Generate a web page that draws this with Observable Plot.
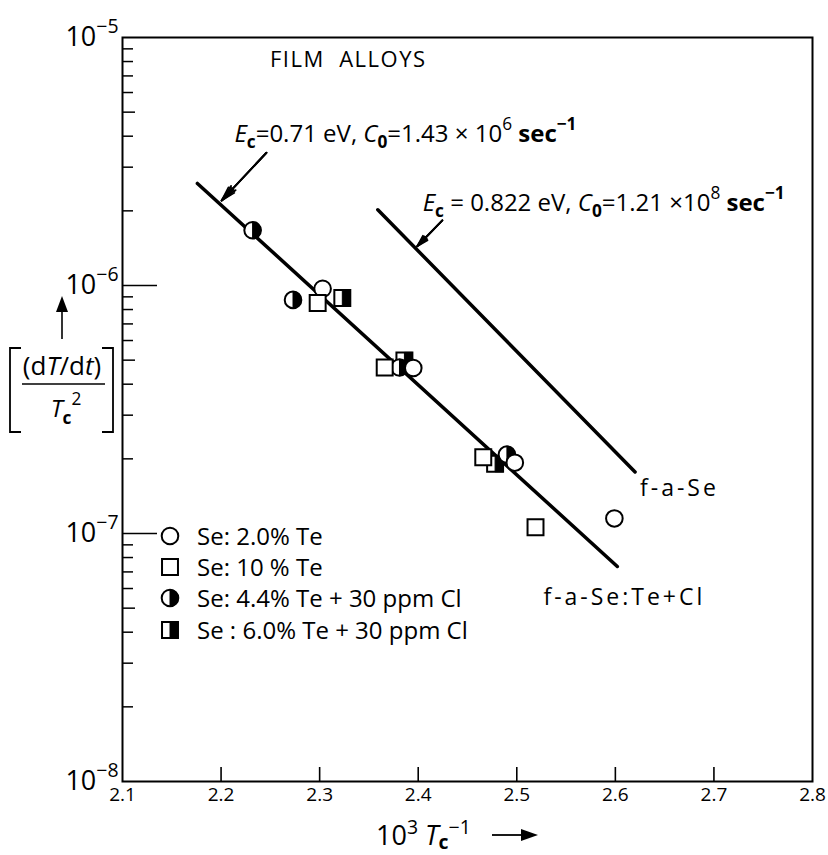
<!DOCTYPE html>
<html>
<head>
<meta charset="utf-8">
<script src="https://cdn.jsdelivr.net/npm/d3@7"></script>
<script src="https://cdn.jsdelivr.net/npm/@observablehq/plot@0.6"></script>
<style>
html, body { margin: 0; padding: 0; background: #fff; }
#chart { width: 828px; height: 855px; }
svg { display: block; }
</style>
</head>
<body>
<div id="chart"></div>
<script>
// ---------------- data ----------------
const xTickValues = [2.1, 2.2, 2.3, 2.4, 2.5, 2.6, 2.7, 2.8];
const xTickLabels = ["2.1", "2.2", "2.3", "2.4", "2.5", "2.6", "2.7", "2.8"];
const xInnerTicks = [2.2, 2.3, 2.4, 2.5, 2.6, 2.7];
const yDecades = [1e-8, 1e-7, 1e-6, 1e-5];
const yDecadeLabels = ["10{^:−8}", "10{^:−7}", "10{^:−6}", "10{^:−5}"];
const yMinorMantissas = [2, 3, 4, 6, 7, 8, 9];
const yMidMantissas = [5];
const yMinorExponents = [-8, -7, -6];
const yLongTicks = [1e-6, 1e-7];

// Se: 2.0% Te (open circles)
const circleX = [2.303, 2.395, 2.498, 2.599];
const circleY = [9.7e-7, 4.65e-7, 1.93e-7, 1.15e-7];
// Se: 10% Te (open squares)
const squareX = [2.298, 2.366, 2.466, 2.519];
const squareY = [8.5e-7, 4.67e-7, 2.03e-7, 1.06e-7];
// Se: 4.4% Te + 30 ppm Cl (half-filled circles)
const halfCircleX = [2.232, 2.273, 2.381, 2.490];
const halfCircleY = [1.67e-6, 8.75e-7, 4.67e-7, 2.08e-7];
// Se: 6.0% Te + 30 ppm Cl (half-filled squares)
const halfSquareX = [2.323, 2.386, 2.478];
const halfSquareY = [8.9e-7, 4.99e-7, 1.91e-7];

// fitted lines
const fitAX = [2.176, 2.602];   // f-a-Se:Te+Cl
const fitAY = [2.58e-6, 7.36e-8];
const fitBX = [2.359, 2.620];   // f-a-Se
const fitBY = [2.02e-6, 1.77e-7];

// legend
const seriesNames = ["Se: 2.0% Te", "Se: 10 % Te", "Se: 4.4% Te + 30 ppm Cl", "Se : 6.0% Te + 30 ppm Cl"];

// text annotations (data coordinates)
const noteTexts = [
  "FILM  ALLOYS",
  "{i:E}{_:c}=0.71 eV, {i:C}{_:0}=1.43 × 10{^:6} {b:sec{^:−1}}",
  "{i:E}{_:c} = 0.822 eV, {i:C}{_:0}=1.21 ×10{^:8} {b:sec{^:−1}}",
  "f-a-Se",
  "f-a-Se:Te+Cl"
];
const noteX = [2.329, 2.2135, 2.4045, 2.625, 2.527];
const noteY = [8.1e-6, 4.08e-6, 2.15e-6, 1.52e-7, 5.52e-8];
const noteAnchor = ["middle", "start", "start", "start", "start"];
const noteSize = [22, 24, 24, 23, 23];
const noteSpacing = [1.5, 0, 0, 3, 3];

// annotation arrows
const arrowX1 = [2.246, 2.4245];
const arrowY1 = [3.43e-6, 1.83e-6];
const arrowX2 = [2.2005, 2.399];
const arrowY2 = [2.2e-6, 1.44e-6];

// ---------------- helpers ----------------
const FONT = "'Open Sans', 'DejaVu Sans', sans-serif";
const NS = "http://www.w3.org/2000/svg";
const zip = (xs, ys) => xs.map((x, i) => ({x, y: ys[i]}));
const pow10 = k => Math.pow(10, k);
const yMinorTicks = yMinorExponents.flatMap(k => yMinorMantissas.map(m => m * pow10(k)));
const yMidTicks = yMinorExponents.flatMap(k => yMidMantissas.map(m => m * pow10(k)));
const arrowRows = arrowX1.map((x, i) => ({x1: x, y1: arrowY1[i], x2: arrowX2[i], y2: arrowY2[i]}));

const halfDisc = {draw(ctx, size) { const r = Math.sqrt(size / Math.PI); ctx.moveTo(0, -r); ctx.arc(0, 0, r, -Math.PI / 2, Math.PI / 2); ctx.closePath(); }};
const halfRect = {draw(ctx, size) { const w = Math.sqrt(size); ctx.rect(0, -w / 2, w / 2, w); }};

function parseMarkup(s) {
  let i = 0;
  function seq(nested) {
    const out = []; let buf = "";
    while (i < s.length) {
      const c = s[i];
      if (c === "}" && nested) { i++; break; }
      if (c === "{" && s[i + 2] === ":") {
        if (buf) { out.push({text: buf}); buf = ""; }
        const type = s[i + 1]; i += 3;
        out.push({type, children: seq(true)});
        continue;
      }
      buf += c; i++;
    }
    if (buf) out.push({text: buf});
    return out;
  }
  return seq(false);
}

function richify(el, base, opts = {}) {
  const subOff = opts.subOff ?? 0.28, supOff = opts.supOff ?? 0.48;
  const src = el.textContent;
  while (el.firstChild) el.removeChild(el.firstChild);
  let cur = 0;
  function walk(nodes, st) {
    for (const n of nodes) {
      if (n.text !== undefined) {
        const t = document.createElementNS(NS, "tspan");
        t.textContent = n.text;
        const dy = st.off - cur;
        if (Math.abs(dy) > 1e-6) t.setAttribute("dy", dy.toFixed(2));
        cur = st.off;
        t.setAttribute("font-size", st.size.toFixed(2));
        if (st.i) t.setAttribute("font-style", "italic");
        if (st.b) t.setAttribute("font-weight", "bold");
        el.appendChild(t);
      } else {
        const s2 = {...st};
        if (n.type === "i") s2.i = true;
        else if (n.type === "b") s2.b = true;
        else if (n.type === "_") { s2.off = st.off + subOff * st.size; s2.size = st.size * 0.72; s2.b = true; s2.i = false; }
        else if (n.type === "^") { s2.off = st.off - supOff * st.size; s2.size = st.size * 0.72; s2.i = false; }
        walk(n.children, s2);
      }
    }
  }
  walk(parseMarkup(src), {off: 0, size: base, i: false, b: false});
}

// ---------------- chart ----------------
const chart = Plot.plot({
  width: 828,
  height: 855,
  marginLeft: 122,
  marginRight: 16,
  marginTop: 37,
  marginBottom: 74,
  x: {domain: [2.1, 2.8], label: null},
  y: {type: "log", domain: [1e-8, 1e-5], label: null},
  style: {fontFamily: FONT, fontSize: "20px", color: "#000", background: "#fff", overflow: "visible"},
  marks: [
    Plot.frame({stroke: "#000", strokeWidth: 2}),
    Plot.axisX({ticks: xInnerTicks, tickSize: -14, tickFormat: () => "", strokeWidth: 1.6, label: null}),
    Plot.axisX({ticks: xTickValues, tickSize: 0, tickPadding: 6, tickFormat: d => xTickLabels[xTickValues.indexOf(d)], label: null}),
    Plot.axisY({ticks: yMinorTicks, tickSize: -11, tickFormat: () => "", strokeWidth: 1.5, label: null}),
    Plot.axisY({ticks: yMidTicks, tickSize: -13, tickFormat: () => "", strokeWidth: 1.5, label: null}),
    Plot.axisY({ticks: yLongTicks, tickSize: -35, tickFormat: () => "", strokeWidth: 1.5, label: null}),
    Plot.axisY({ticks: yDecades, tickSize: 0, tickPadding: 4, tickFormat: d => yDecadeLabels[yDecades.indexOf(d)], label: null}),
    Plot.line(zip(fitAX, fitAY), {x: "x", y: "y", stroke: "#000", strokeWidth: 3.5}),
    Plot.line(zip(fitBX, fitBY), {x: "x", y: "y", stroke: "#000", strokeWidth: 3.5}),
    // annotation arrows with (nearly) filled narrow heads
    Plot.arrow(arrowRows, {x1: "x1", y1: "y1", x2: "x2", y2: "y2", stroke: "#000", strokeWidth: 1.6, headLength: 14, headAngle: 32}),
    Plot.arrow(arrowRows, {x1: "x1", y1: "y1", x2: "x2", y2: "y2", stroke: "#000", strokeWidth: 2, headLength: 13, headAngle: 20}),
    Plot.arrow(arrowRows, {x1: "x1", y1: "y1", x2: "x2", y2: "y2", stroke: "#000", strokeWidth: 2, headLength: 12, headAngle: 9}),
    // half-filled squares
    Plot.dot(zip(halfSquareX, halfSquareY), {x: "x", y: "y", symbol: "square", r: 9, fill: "#fff", stroke: "#000", strokeWidth: 2}),
    Plot.dot(zip(halfSquareX, halfSquareY), {x: "x", y: "y", symbol: halfRect, r: 9, fill: "#000", stroke: "#000", strokeWidth: 1}),
    // half-filled circles
    Plot.dot(zip(halfCircleX, halfCircleY), {x: "x", y: "y", symbol: "circle", r: 8.3, fill: "#fff", stroke: "#000", strokeWidth: 2}),
    Plot.dot(zip(halfCircleX, halfCircleY), {x: "x", y: "y", symbol: halfDisc, r: 8.3, fill: "#000", stroke: "#000", strokeWidth: 1}),
    // open circles
    Plot.dot(zip(circleX, circleY), {x: "x", y: "y", symbol: "circle", r: 8.3, fill: "#fff", stroke: "#000", strokeWidth: 2}),
    // open squares
    Plot.dot(zip(squareX, squareY), {x: "x", y: "y", symbol: "square", r: 9, fill: "#fff", stroke: "#000", strokeWidth: 2}),
    // annotations
    Plot.text(noteTexts.map((t, i) => ({t, x: noteX[i], y: noteY[i]})),
      {x: "x", y: "y", text: "t", textAnchor: "start", fontSize: 23, fill: "#000"})
  ]
});

document.getElementById("chart").appendChild(chart);
const svg = d3.select(chart);

// tick label sizes and per-note styling (matched by content)
svg.selectAll("text").each(function() {
  const s = this.textContent;
  if (xTickLabels.includes(s)) this.setAttribute("font-size", 19);
  else if (yDecadeLabels.includes(s)) this.setAttribute("font-size", 27);
  else {
    const idx = noteTexts.indexOf(s);
    if (idx >= 0) {
      this.setAttribute("text-anchor", noteAnchor[idx]);
      this.setAttribute("font-size", noteSize[idx]);
      if (noteSpacing[idx]) this.setAttribute("letter-spacing", noteSpacing[idx]);
    }
  }
});

// ---------------- legend ----------------
const legendRowsY = [536, 567, 598, 630];
const legendSymX = 170;
const legendTextX = 197;
const lg = svg.append("g").attr("font-family", FONT).attr("font-size", 24).attr("text-anchor", "start");
const sizeC = Math.PI * 8.3 * 8.3, sizeS = Math.PI * 9 * 9;
legendRowsY.forEach((y, i) => {
  const g = lg.append("g").attr("transform", `translate(${legendSymX},${y})`);
  if (i === 0 || i === 2) g.append("path").attr("d", d3.symbol(d3.symbolCircle, sizeC)()).attr("fill", "#fff").attr("stroke", "#000").attr("stroke-width", 2);
  if (i === 1 || i === 3) g.append("path").attr("d", d3.symbol(d3.symbolSquare, sizeS)()).attr("fill", "#fff").attr("stroke", "#000").attr("stroke-width", 2);
  if (i === 2) g.append("path").attr("d", d3.symbol(halfDisc, sizeC)()).attr("fill", "#000").attr("stroke", "#000");
  if (i === 3) g.append("path").attr("d", d3.symbol(halfRect, sizeS)()).attr("fill", "#000").attr("stroke", "#000");
  lg.append("text").attr("x", legendTextX).attr("y", y).attr("dy", "0.36em").attr("text-anchor", "start").text(seriesNames[i]);
});

// ---------------- axis titles ----------------
const at = svg.append("g").attr("font-family", FONT).attr("fill", "#000").attr("text-anchor", "middle");
// y title: arrow, brackets, fraction
at.append("line").attr("x1", 62).attr("x2", 62).attr("y1", 339).attr("y2", 310).attr("stroke", "#000").attr("stroke-width", 1.6);
at.append("path").attr("d", "M56,312 L62,296 L68,312 Z").attr("fill", "#000");
at.append("path").attr("d", "M21,348 H10 V432 H21").attr("fill", "none").attr("stroke", "#000").attr("stroke-width", 1.8);
at.append("path").attr("d", "M102,348 H113 V432 H102").attr("fill", "none").attr("stroke", "#000").attr("stroke-width", 1.8);
at.append("path").attr("d", "M22,384 H105").attr("stroke", "#000").attr("stroke-width", 1.6);
at.append("text").attr("x", 62).attr("y", 375).attr("text-anchor", "middle").attr("font-size", 26).text("(d{i:T}/d{i:t})");
at.append("text").attr("x", 66).attr("y", 417).attr("text-anchor", "middle").attr("font-size", 24).text("{i:T}{_:c}{^:2}");
// x title
at.append("text").attr("x", 376).attr("y", 845).attr("text-anchor", "start").attr("font-size", 27).attr("class", "xtitle").text("10{^:3} {i:T}{_:c}{^:−1}");
at.append("line").attr("x1", 492).attr("x2", 524).attr("y1", 835).attr("y2", 835).attr("stroke", "#000").attr("stroke-width", 1.8);
at.append("path").attr("d", "M521,829 L538,835 L521,841 Z").attr("fill", "#000");

// ---------------- rich text (sub/superscripts, italics) ----------------
svg.selectAll("text").each(function() {
  if (this.textContent.includes("{")) {
    const base = parseFloat(this.getAttribute("font-size")) || parseFloat(getComputedStyle(this).fontSize) || 20;
    const isX = this.getAttribute("class") === "xtitle";
    richify(this, base, isX ? {subOff: 0.14, supOff: 0.4} : {});
  }
});
</script>
</body>
</html>
